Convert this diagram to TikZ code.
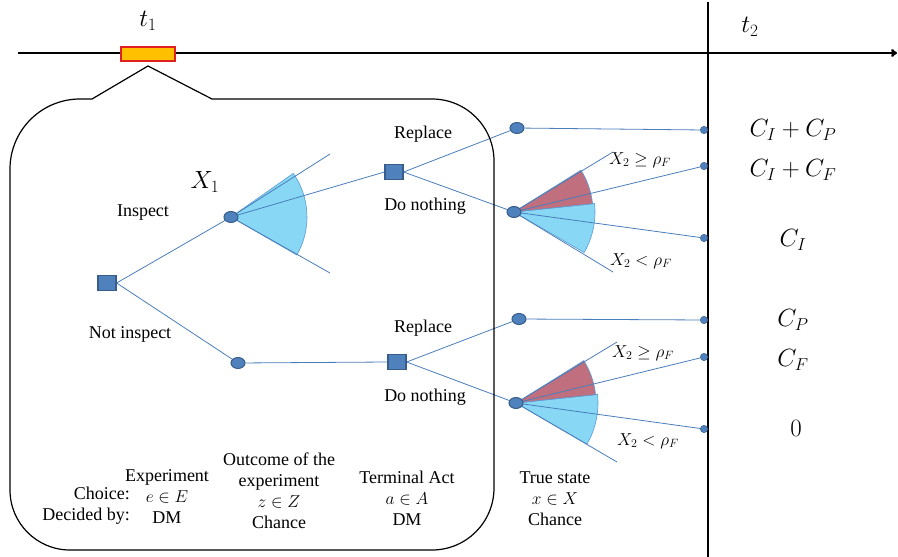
\documentclass[tikz,border=0pt]{standalone}
\usepackage{fontspec}
\setmainfont{Liberation Serif}
\usepackage{tikz}
\usetikzlibrary{arrows.meta,shapes.geometric,backgrounds}
\definecolor{nodefill}{HTML}{4F81BD}
\definecolor{nodeedge}{HTML}{385D8A}
\definecolor{branchblue}{HTML}{4A7EBB}
\definecolor{fancyan}{HTML}{87D7F5}
\definecolor{fanred}{HTML}{BF6F7E}
\definecolor{fanedge}{HTML}{5B9BD5}
\definecolor{markfill}{HTML}{FFC000}
\definecolor{markedge}{HTML}{E02020}

\tikzset{
  decision/.style={draw=nodeedge, fill=nodefill, line width=1.2pt,
                   minimum width=18pt, minimum height=15pt, inner sep=0pt},
  chance/.style={ellipse, draw=nodeedge, fill=nodefill, line width=1pt,
                 minimum width=14pt, minimum height=11pt, inner sep=0pt},
  leaf/.style={circle, draw=nodeedge, fill=nodefill, minimum size=7.5pt, inner sep=0pt},
  branch/.style={draw=branchblue, line width=0.8pt},
  lbl/.style={font=\fontsize{18}{21}\selectfont, inner sep=1pt},
  payoff/.style={font=\fontsize{23}{26}\selectfont},
  cond/.style={font=\fontsize{18}{21}\selectfont},
}

\begin{document}
\begin{tikzpicture}[x=1pt, y=-1pt]
  \useasboundingbox (0,0) rectangle (898,557);

  % time axis
  \draw[line width=2.6pt, -{To[length=6pt,width=8pt]}] (18,53) -- (897,53);
  \draw[line width=1.6pt] (708,2) -- (708,557);
  \node[draw=markedge, fill=markfill, line width=1.2pt, minimum width=54pt,
        minimum height=14pt, inner sep=0pt] (t1mark) at (148,54) {};
  \node[font=\fontsize{23}{26}\selectfont] (t1) at (148,21) {$t_1$};
  \node[font=\fontsize{23}{26}\selectfont] (t2) at (750,27) {$t_2$};

  % callout round the first decisions
  \draw[line width=1.2pt] (212,99) -- (432,99) arc[start angle=-90, end angle=0, radius=62]
        -- (494,488) arc[start angle=0, end angle=90, radius=62]
        -- (70,550) arc[start angle=90, end angle=180, radius=60]
        -- (10,169) arc[start angle=180, end angle=270, radius=70]
        -- (92,99) -- (148,66) -- cycle;

  % nodes
  \node[decision] (dRoot) at (107,283) {};
  \node[chance] (cIns) at (231,217) {};
  \node[chance] (cNot) at (238,363) {};
  \node[decision] (dAct1) at (394,172) {};
  \node[decision] (dAct2) at (397,362) {};
  \node[chance] (cRep1) at (517,128) {};
  \node[chance] (cState1) at (514,212) {};
  \node[chance] (cRep2) at (519,319) {};
  \node[chance] (cState2) at (516,403) {};
  \node[leaf] (leafA) at (704,130) {};
  \node[leaf] (leafB) at (704,166) {};
  \node[leaf] (leafC) at (704,238) {};
  \node[leaf] (leafD) at (704,320) {};
  \node[leaf] (leafE) at (704,357) {};
  \node[leaf] (leafF) at (704,429) {};

  \coordinate (insUp) at (330,154);
  \coordinate (insDn) at (330,273);
  \coordinate (st1Up) at (613,152);
  \coordinate (st1Dn) at (613,272);
  \coordinate (st2Up) at (617,342);
  \coordinate (st2Dn) at (617,462);

  \begin{scope}[on background layer]
    % outcome fans
    \filldraw[fill=fancyan, draw=fanedge, line width=0.6pt] (cIns.center) -- ++(-35:76)
          arc[start angle=-35, end angle=30, radius=76] -- cycle;
    \filldraw[fill=fancyan, draw=fanedge, line width=0.6pt] (cState1.center) -- ++(-6:81)
          arc[start angle=-6, end angle=30, radius=81] -- cycle;
    \filldraw[fill=fanred, draw=fanedge, line width=0.6pt] (cState1.center) -- ++(-32:79)
          arc[start angle=-32, end angle=-6, radius=79] -- cycle;
    \filldraw[fill=fancyan, draw=fanedge, line width=0.6pt] (cState2.center) -- ++(-6:82)
          arc[start angle=-6, end angle=30, radius=82] -- cycle;
    \filldraw[fill=fanred, draw=fanedge, line width=0.6pt] (cState2.center) -- ++(-32:80)
          arc[start angle=-32, end angle=-6, radius=80] -- cycle;

    % branches
    \draw[branch] (dRoot.east) -- (cIns);
    \draw[branch] (dRoot.east) -- (cNot);
    \draw[branch] (cIns.center) -- (dAct1.west);
    \draw[branch] (cNot) -- (dAct2.west);
    \draw[branch] (cIns.center) -- (insUp);
    \draw[branch] (cIns.center) -- (insDn);
    \draw[branch] (dAct1.east) -- (cRep1);
    \draw[branch] (dAct1.east) -- (cState1);
    \draw[branch] (dAct2.east) -- (cRep2);
    \draw[branch] (dAct2.east) -- (cState2);
    \draw[branch] (cRep1) -- (leafA);
    \draw[branch] (cRep2) -- (leafD);
    \draw[branch] (cState1.center) -- (st1Up);
    \draw[branch] (cState1.center) -- (st1Dn);
    \draw[branch] (cState1.center) -- (leafB);
    \draw[branch] (cState1.center) -- (leafC);
    \draw[branch] (cState2.center) -- (st2Up);
    \draw[branch] (cState2.center) -- (st2Dn);
    \draw[branch] (cState2.center) -- (leafE);
    \draw[branch] (cState2.center) -- (leafF);
  \end{scope}

  % branch labels
  \node[lbl] (insLbl) at (143,213) {Inspect};
  \node[lbl] (notLbl) at (130,334) {Not inspect};
  \node[font=\fontsize{23}{26}\selectfont] (x1Lbl) at (205,182) {$X_1$};
  \node[lbl] (rep1Lbl) at (423,134) {Replace};
  \node[lbl] (non1Lbl) at (425,206) {Do nothing};
  \node[lbl] (rep2Lbl) at (423,328) {Replace};
  \node[lbl] (non2Lbl) at (425,397) {Do nothing};
  \node[cond] (geq1) at (640,160) {$X_2 \geq \rho_F$};
  \node[cond] (lt1) at (641,261) {$X_2 < \rho_F$};
  \node[cond] (geq2) at (643,353) {$X_2 \geq \rho_F$};
  \node[cond] (lt2) at (648,441) {$X_2 < \rho_F$};

  % payoffs
  \node[payoff] (payA) at (793,130) {$C_I + C_P$};
  \node[payoff] (payB) at (793,170) {$C_I + C_F$};
  \node[payoff] (payC) at (793,240) {$C_I$};
  \node[payoff] (payD) at (793,320) {$C_P$};
  \node[payoff] (payE) at (793,360) {$C_F$};
  \node[payoff] (payF) at (796,428) {$0$};

  % stage captions
  \node[lbl, align=right, anchor=east] (rowLbl) at (131,506) {Choice:\\Decided by:};
  \node[lbl, align=center] (expLbl) at (167,497) {Experiment\\$e \in E$\\DM};
  \node[lbl, align=center] (outLbl) at (279,491) {Outcome of the\\experiment\\$z \in Z$\\Chance};
  \node[lbl, align=center] (actLbl) at (407,498) {Terminal Act\\$a \in A$\\DM};
  \node[lbl, align=center] (trueLbl) at (555,499) {True state\\$x \in X$\\Chance};
\end{tikzpicture}
\end{document}
